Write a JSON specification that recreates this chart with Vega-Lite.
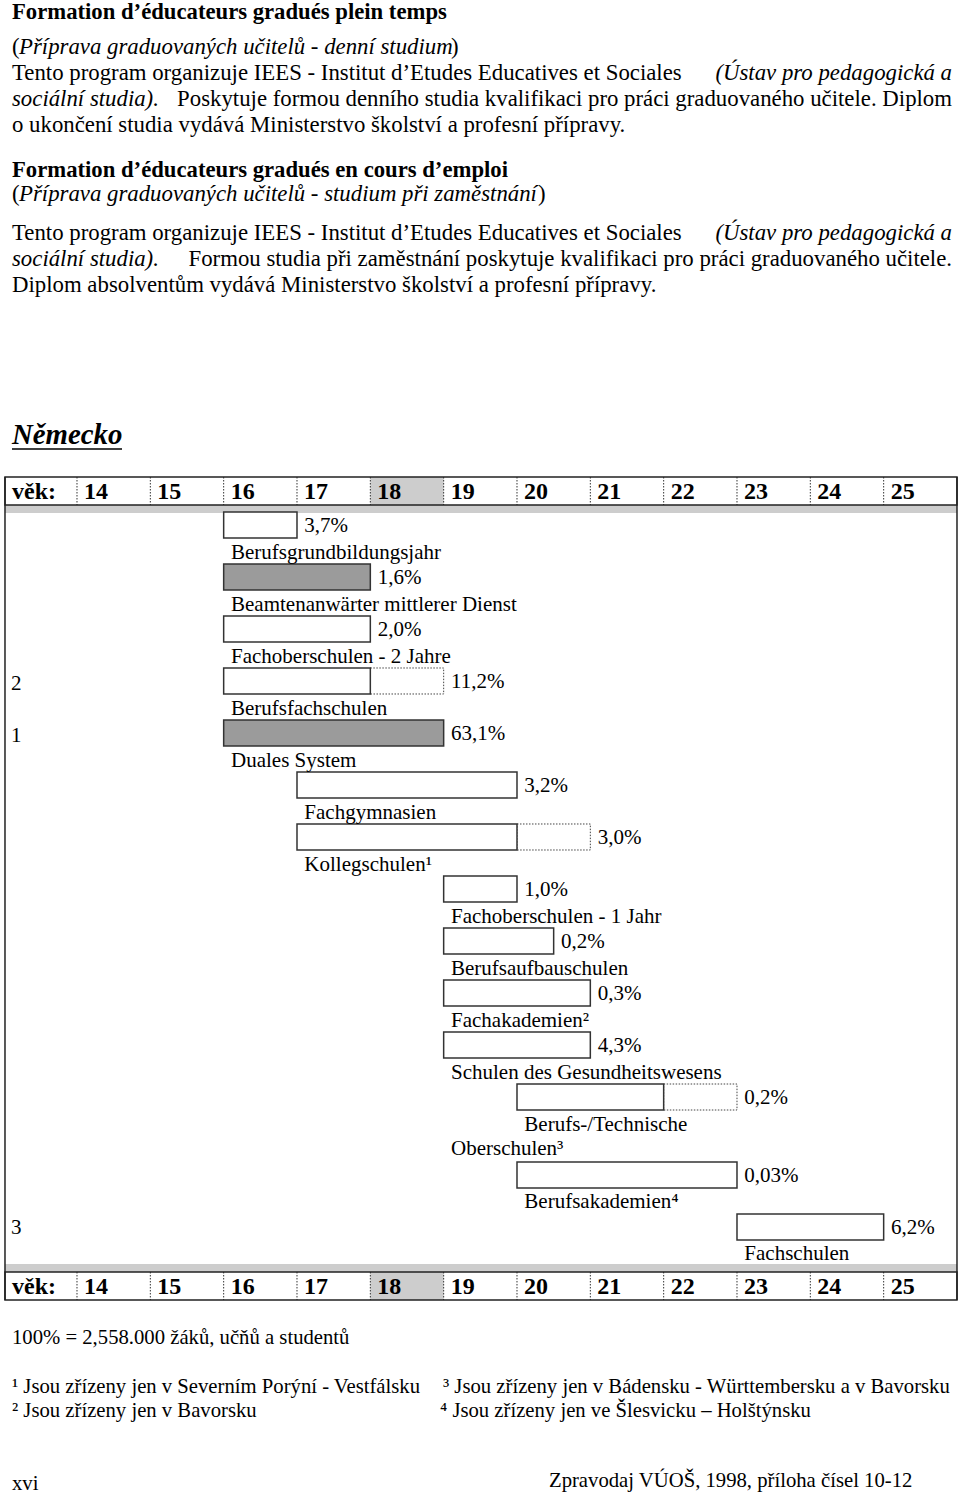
{
  "$schema": "https://vega.github.io/schema/vega-lite/v6.json",
  "width": 960,
  "height": 1494,
  "autosize": {"type": "fit", "contains": "padding"},
  "padding": 0,
  "background": "white",
  "config": {"view": {"stroke": null}, "text": {"font": "Liberation Serif", "color": "black", "baseline": "middle", "align": "left"}},
  "datasets": {
    "bands": [{"x0": 13.018, "x1": 26, "y0": -0.269, "y1": 0.038}, {"x0": 13.018, "x1": 26, "y0": 28.92, "y1": 29.23}],
    "cells": [{"x0": 18, "x1": 19, "y0": -1.346, "y1": -0.269}, {"x0": 18, "x1": 19, "y0": 29.23, "y1": 30.31}],
    "hdrbox": [{"x0": 13.018, "x1": 26, "y0": -1.346, "y1": -0.269}, {"x0": 13.018, "x1": 26, "y0": 29.23, "y1": 30.31}],
    "frame": [{"x": 13.018, "y0": -1.346, "y1": 30.31}, {"x": 26, "y0": -1.346, "y1": 30.31}],
    "ages": [{"age": 14}, {"age": 15}, {"age": 16}, {"age": 17}, {"age": 18}, {"age": 19}, {"age": 20}, {"age": 21}, {"age": 22}, {"age": 23}, {"age": 24}, {"age": 25}],
    "hdrlab": [{"x": 13.018, "t": "věk:"}, {"x": 14, "t": "14"}, {"x": 15, "t": "15"}, {"x": 16, "t": "16"}, {"x": 17, "t": "17"}, {"x": 18, "t": "18"}, {"x": 19, "t": "19"}, {"x": 20, "t": "20"}, {"x": 21, "t": "21"}, {"x": 22, "t": "22"}, {"x": 23, "t": "23"}, {"x": 24, "t": "24"}, {"x": 25, "t": "25"}],
    "bars": [
      {"name": "Berufsgrundbildungsjahr", "start": 16, "end": 17, "ext": null, "top": 0, "bot": 1, "kind": "white", "pct": 3.7},
      {"name": "Beamtenanwärter mittlerer Dienst", "start": 16, "end": 18, "ext": null, "top": 2, "bot": 3, "kind": "gray", "pct": 1.6},
      {"name": "Fachoberschulen - 2 Jahre", "start": 16, "end": 18, "ext": null, "top": 4, "bot": 5, "kind": "white", "pct": 2.0},
      {"name": "Berufsfachschulen", "start": 16, "end": 18, "ext": 19, "top": 6, "bot": 7, "kind": "white", "pct": 11.2},
      {"name": "Duales System", "start": 16, "end": 19, "ext": null, "top": 8, "bot": 9, "kind": "gray", "pct": 63.1},
      {"name": "Fachgymnasien", "start": 17, "end": 20, "ext": null, "top": 10, "bot": 11, "kind": "white", "pct": 3.2},
      {"name": "Kollegschulen", "start": 17, "end": 20, "ext": 21, "top": 12, "bot": 13, "kind": "white", "pct": 3.0},
      {"name": "Fachoberschulen - 1 Jahr", "start": 19, "end": 20, "ext": null, "top": 14, "bot": 15, "kind": "white", "pct": 1.0},
      {"name": "Berufsaufbauschulen", "start": 19, "end": 20.5, "ext": null, "top": 16, "bot": 17, "kind": "white", "pct": 0.2},
      {"name": "Fachakademien", "start": 19, "end": 21, "ext": null, "top": 18, "bot": 19, "kind": "white", "pct": 0.3},
      {"name": "Schulen des Gesundheitswesens", "start": 19, "end": 21, "ext": null, "top": 20, "bot": 21, "kind": "white", "pct": 4.3},
      {"name": "Berufs-/Technische Oberschulen", "start": 20, "end": 22, "ext": 23, "top": 22, "bot": 23, "kind": "white", "pct": 0.2},
      {"name": "Berufsakademien", "start": 20, "end": 23, "ext": null, "top": 25, "bot": 26, "kind": "white", "pct": 0.03},
      {"name": "Fachschulen", "start": 23, "end": 25, "ext": null, "top": 27, "bot": 28, "kind": "white", "pct": 6.2}
    ],
    "labels": [
      {"t": "3,7%", "x": 17.1, "y": 0.55},
      {"t": "1,6%", "x": 18.1, "y": 2.55},
      {"t": "2,0%", "x": 18.1, "y": 4.55},
      {"t": "11,2%", "x": 19.1, "y": 6.55},
      {"t": "63,1%", "x": 19.1, "y": 8.55},
      {"t": "3,2%", "x": 20.1, "y": 10.55},
      {"t": "3,0%", "x": 21.1, "y": 12.55},
      {"t": "1,0%", "x": 20.1, "y": 14.55},
      {"t": "0,2%", "x": 20.6, "y": 16.55},
      {"t": "0,3%", "x": 21.1, "y": 18.55},
      {"t": "4,3%", "x": 21.1, "y": 20.55},
      {"t": "0,2%", "x": 23.1, "y": 22.55},
      {"t": "0,03%", "x": 23.1, "y": 25.55},
      {"t": "6,2%", "x": 25.1, "y": 27.55},
      {"t": "Berufsgrundbildungsjahr", "x": 16.1, "y": 1.58},
      {"t": "Beamtenanwärter mittlerer Dienst", "x": 16.1, "y": 3.58},
      {"t": "Fachoberschulen - 2 Jahre", "x": 16.1, "y": 5.58},
      {"t": "Berufsfachschulen", "x": 16.1, "y": 7.58},
      {"t": "Duales System", "x": 16.1, "y": 9.58},
      {"t": "Fachgymnasien", "x": 17.1, "y": 11.58},
      {"t": "Kollegschulen¹", "x": 17.1, "y": 13.58},
      {"t": "Fachoberschulen - 1 Jahr", "x": 19.1, "y": 15.58},
      {"t": "Berufsaufbauschulen", "x": 19.1, "y": 17.58},
      {"t": "Fachakademien²", "x": 19.1, "y": 19.58},
      {"t": "Schulen des Gesundheitswesens", "x": 19.1, "y": 21.58},
      {"t": "Berufs-/Technische", "x": 20.1, "y": 23.58},
      {"t": "Oberschulen³", "x": 19.1, "y": 24.5},
      {"t": "Berufsakademien⁴", "x": 20.1, "y": 26.55},
      {"t": "Fachschulen", "x": 23.1, "y": 28.55},
      {"t": "2", "x": 13.1, "y": 6.6},
      {"t": "1", "x": 13.1, "y": 8.6},
      {"t": "3", "x": 13.1, "y": 27.55}
    ],
    "pb": [
      {"t": "Formation d’éducateurs gradués plein temps", "x": 12, "y": 12},
      {"t": "Formation d’éducateurs gradués en cours d’emploi", "x": 12, "y": 170}
    ],
    "pn": [
      {"t": "(", "x": 12, "y": 47},
      {"t": ")", "x": 451, "y": 47},
      {"t": "Tento program organizuje IEES - Institut d’Etudes Educatives et Sociales", "x": 12, "y": 73},
      {"t": "o ukončení studia vydává Ministerstvo školství a profesní přípravy.", "x": 12, "y": 125},
      {"t": "(", "x": 12, "y": 194},
      {"t": ")", "x": 538, "y": 194},
      {"t": "Tento program organizuje IEES - Institut d’Etudes Educatives et Sociales", "x": 12, "y": 233},
      {"t": "Diplom absolventům vydává Ministerstvo školství a profesní přípravy.", "x": 12, "y": 285}
    ],
    "pnr": [
      {"t": "Poskytuje formou denního studia kvalifikaci pro práci graduovaného učitele. Diplom", "x": 952, "y": 99},
      {"t": "Formou studia při zaměstnání poskytuje kvalifikaci pro práci graduovaného učitele.", "x": 952, "y": 259}
    ],
    "pi": [
      {"t": "Příprava graduovaných učitelů - denní studium", "x": 19, "y": 47},
      {"t": "sociální studia).", "x": 12, "y": 99},
      {"t": "Příprava graduovaných učitelů - studium při zaměstnání", "x": 19, "y": 194},
      {"t": "sociální studia).", "x": 12, "y": 259}
    ],
    "pir": [
      {"t": "(Ústav pro pedagogická a", "x": 952, "y": 73},
      {"t": "(Ústav pro pedagogická a", "x": 952, "y": 233}
    ],
    "psmall": [
      {"t": "100% = 2,558.000 žáků, učňů a studentů", "x": 12, "y": 1338},
      {"t": "¹ Jsou zřízeny jen v Severním Porýní - Vestfálsku", "x": 12, "y": 1387},
      {"t": "³ Jsou zřízeny jen v Bádensku - Württembersku a v Bavorsku", "x": 443, "y": 1387},
      {"t": "² Jsou zřízeny  jen v Bavorsku", "x": 12, "y": 1411},
      {"t": "⁴ Jsou zřízeny jen ve Šlesvicku – Holštýnsku", "x": 440, "y": 1411},
      {"t": "xvi", "x": 12, "y": 1484},
      {"t": "Zpravodaj VÚOŠ, 1998, příloha čísel 10-12", "x": 549, "y": 1481}
    ],
    "ptitle": [{"t": "Německo", "x": 12, "y": 435}],
    "puline": [{"x0": 12, "x1": 122, "y": 449}]
  },
  "layer": [
    {
      "layer": [
        {
          "data": {"name": "bands"},
          "mark": {"type": "rect", "fill": "#cdcdcd"},
          "encoding": {
            "x": {"field": "x0", "type": "quantitative", "scale": {"domain": [12.95, 26.041], "nice": false, "zero": false}, "axis": null},
            "x2": {"field": "x1"},
            "y": {"field": "y0", "type": "quantitative", "scale": {"domain": [-19.692, 37.769], "reverse": true, "nice": false, "zero": false}, "axis": null},
            "y2": {"field": "y1"}
          }
        },
        {
          "data": {"name": "cells"},
          "mark": {"type": "rect", "fill": "#cdcdcd"},
          "encoding": {
            "x": {"field": "x0", "type": "quantitative", "axis": null},
            "x2": {"field": "x1"},
            "y": {"field": "y0", "type": "quantitative", "axis": null},
            "y2": {"field": "y1"}
          }
        },
        {
          "data": {"name": "ages"},
          "mark": {"type": "rule", "stroke": "#333", "strokeWidth": 1, "strokeDash": [1.5, 1.5]},
          "encoding": {
            "x": {"field": "age", "type": "quantitative", "axis": null},
            "y": {"datum": -1.346, "type": "quantitative", "axis": null},
            "y2": {"datum": -0.269}
          }
        },
        {
          "data": {"name": "ages"},
          "mark": {"type": "rule", "stroke": "#333", "strokeWidth": 1, "strokeDash": [1.5, 1.5]},
          "encoding": {
            "x": {"field": "age", "type": "quantitative", "axis": null},
            "y": {"datum": 29.23, "type": "quantitative", "axis": null},
            "y2": {"datum": 30.31}
          }
        },
        {
          "data": {"name": "hdrbox"},
          "mark": {"type": "rect", "fill": "transparent", "stroke": "#222", "strokeWidth": 1.5},
          "encoding": {
            "x": {"field": "x0", "type": "quantitative", "axis": null},
            "x2": {"field": "x1"},
            "y": {"field": "y0", "type": "quantitative", "axis": null},
            "y2": {"field": "y1"}
          }
        },
        {
          "data": {"name": "frame"},
          "mark": {"type": "rule", "stroke": "#222", "strokeWidth": 1.5},
          "encoding": {
            "x": {"field": "x", "type": "quantitative", "axis": null},
            "y": {"field": "y0", "type": "quantitative", "axis": null},
            "y2": {"field": "y1"}
          }
        },
        {
          "data": {"name": "hdrlab"},
          "mark": {"type": "text", "fontWeight": "bold", "fontSize": 24, "dx": 7},
          "encoding": {
            "x": {"field": "x", "type": "quantitative", "axis": null},
            "y": {"datum": -0.78, "type": "quantitative", "axis": null},
            "text": {"field": "t"}
          }
        },
        {
          "data": {"name": "hdrlab"},
          "mark": {"type": "text", "fontWeight": "bold", "fontSize": 24, "dx": 7},
          "encoding": {
            "x": {"field": "x", "type": "quantitative", "axis": null},
            "y": {"datum": 29.8, "type": "quantitative", "axis": null},
            "text": {"field": "t"}
          }
        },
        {
          "data": {"name": "bars"},
          "transform": [{"filter": "datum.ext != null"}],
          "mark": {"type": "rect", "fill": "white", "stroke": "#444", "strokeWidth": 1, "strokeDash": [1.5, 1.5]},
          "encoding": {
            "x": {"field": "end", "type": "quantitative", "axis": null},
            "x2": {"field": "ext"},
            "y": {"field": "top", "type": "quantitative", "axis": null},
            "y2": {"field": "bot"}
          }
        },
        {
          "data": {"name": "bars"},
          "mark": {"type": "rect", "stroke": "#333", "strokeWidth": 1.5},
          "encoding": {
            "x": {"field": "start", "type": "quantitative", "axis": null},
            "x2": {"field": "end"},
            "y": {"field": "top", "type": "quantitative", "axis": null},
            "y2": {"field": "bot"},
            "fill": {"field": "kind", "type": "nominal", "scale": {"domain": ["white", "gray"], "range": ["#ffffff", "#9b9b9b"]}, "legend": null}
          }
        },
        {
          "data": {"name": "labels"},
          "mark": {"type": "text", "fontSize": 21},
          "encoding": {
            "x": {"field": "x", "type": "quantitative", "axis": null},
            "y": {"field": "y", "type": "quantitative", "axis": null},
            "text": {"field": "t"}
          }
        }
      ]
    },
    {
      "layer": [
        {
          "data": {"name": "pb"},
          "mark": {"type": "text", "fontSize": 22.7, "fontWeight": "bold"},
          "encoding": {
            "x": {"field": "x", "type": "quantitative", "scale": {"domain": [0, 960], "nice": false, "zero": false}, "axis": null},
            "y": {"field": "y", "type": "quantitative", "scale": {"domain": [0, 1494], "reverse": true, "nice": false, "zero": false}, "axis": null},
            "text": {"field": "t"}
          }
        },
        {
          "data": {"name": "pn"},
          "mark": {"type": "text", "fontSize": 22.8},
          "encoding": {
            "x": {"field": "x", "type": "quantitative", "axis": null},
            "y": {"field": "y", "type": "quantitative", "axis": null},
            "text": {"field": "t"}
          }
        },
        {
          "data": {"name": "pnr"},
          "mark": {"type": "text", "fontSize": 22.8, "align": "right"},
          "encoding": {
            "x": {"field": "x", "type": "quantitative", "axis": null},
            "y": {"field": "y", "type": "quantitative", "axis": null},
            "text": {"field": "t"}
          }
        },
        {
          "data": {"name": "pi"},
          "mark": {"type": "text", "fontSize": 22.8, "fontStyle": "italic"},
          "encoding": {
            "x": {"field": "x", "type": "quantitative", "axis": null},
            "y": {"field": "y", "type": "quantitative", "axis": null},
            "text": {"field": "t"}
          }
        },
        {
          "data": {"name": "pir"},
          "mark": {"type": "text", "fontSize": 22.8, "fontStyle": "italic", "align": "right"},
          "encoding": {
            "x": {"field": "x", "type": "quantitative", "axis": null},
            "y": {"field": "y", "type": "quantitative", "axis": null},
            "text": {"field": "t"}
          }
        },
        {
          "data": {"name": "psmall"},
          "mark": {"type": "text", "fontSize": 20.7},
          "encoding": {
            "x": {"field": "x", "type": "quantitative", "axis": null},
            "y": {"field": "y", "type": "quantitative", "axis": null},
            "text": {"field": "t"}
          }
        },
        {
          "data": {"name": "ptitle"},
          "mark": {"type": "text", "fontSize": 28.8, "fontWeight": "bold", "fontStyle": "italic"},
          "encoding": {
            "x": {"field": "x", "type": "quantitative", "axis": null},
            "y": {"field": "y", "type": "quantitative", "axis": null},
            "text": {"field": "t"}
          }
        },
        {
          "data": {"name": "puline"},
          "mark": {"type": "rule", "stroke": "black", "strokeWidth": 1.5},
          "encoding": {
            "x": {"field": "x0", "type": "quantitative", "axis": null},
            "x2": {"field": "x1"},
            "y": {"field": "y", "type": "quantitative", "axis": null}
          }
        }
      ]
    }
  ],
  "resolve": {"scale": {"x": "independent", "y": "independent"}}
}
